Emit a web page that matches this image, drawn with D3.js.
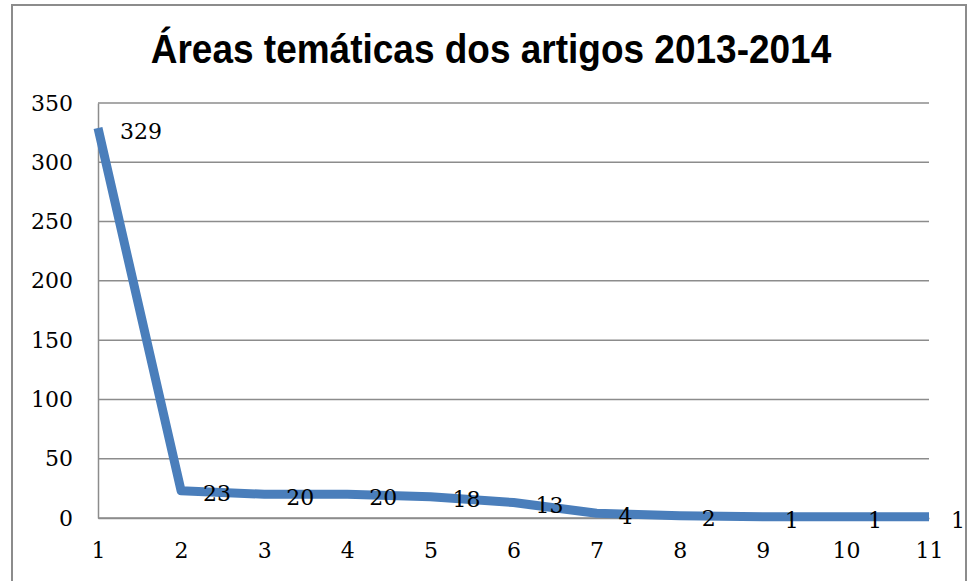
<!DOCTYPE html>
<html>
<head>
<meta charset="UTF-8">
<title>Áreas temáticas</title>
<script src="https://cdn.jsdelivr.net/npm/d3@7"></script>
<style>
  body { margin: 0; background: #fff; }
  .tick text { font-family: "DejaVu Serif", serif; font-size: 22px; fill: #000; }
  .lbl { font-family: "DejaVu Serif", serif; font-size: 22px; fill: #000; }
</style>
</head>
<body>
<svg width="971" height="581"></svg>
<script>
// dados
var categorias = [1, 2, 3, 4, 5, 6, 7, 8, 9, 10, 11];
var valores = [329, 23, 20, 20, 18, 13, 4, 2, 1, 1, 1];
var yTicks = [0, 50, 100, 150, 200, 250, 300, 350];
var titulo = "Áreas temáticas dos artigos 2013-2014";

var svg = d3.select("svg");

// moldura
svg.append("rect")
  .attr("x", 12).attr("y", 5)
  .attr("width", 954).attr("height", 590)
  .attr("fill", "none")
  .attr("stroke", "#8c8c8c")
  .attr("stroke-width", 2);

var x = d3.scaleLinear().domain([1, 11]).range([98, 929]);
var y = d3.scaleLinear().domain([0, 350]).range([518, 103]);

// grade
svg.append("g")
  .selectAll("line")
  .data(yTicks)
  .enter()
  .append("line")
  .attr("x1", x(1)).attr("x2", x(11))
  .attr("y1", function(d) { return y(d); })
  .attr("y2", function(d) { return y(d); })
  .attr("stroke", "#8c8c8c")
  .attr("stroke-width", 1.5);

// eixo y
var yAxis = svg.append("g")
  .attr("transform", "translate(" + x(1) + ",0)")
  .call(d3.axisLeft(y).tickValues(yTicks).tickSize(0).tickPadding(25));
yAxis.select(".domain").attr("stroke", "#8c8c8c").attr("stroke-width", 1.5);

// eixo x
var xAxis = svg.append("g")
  .attr("transform", "translate(0," + y(0) + ")")
  .call(d3.axisBottom(x).tickValues(categorias).tickFormat(d3.format("d")).tickSize(0).tickPadding(24));
xAxis.select(".domain").attr("stroke", "#8c8c8c").attr("stroke-width", 1.5);

// linha
var linha = d3.line()
  .x(function(d, i) { return x(categorias[i]); })
  .y(function(d) { return y(d); });

svg.append("path")
  .datum(valores)
  .attr("d", linha)
  .attr("fill", "none")
  .attr("stroke", "#4a7ebb")
  .attr("stroke-width", 9)
  .attr("stroke-linejoin", "round");

// rótulos
svg.append("g")
  .selectAll("text")
  .data(valores)
  .enter()
  .append("text")
  .attr("class", "lbl")
  .attr("x", function(d, i) { return x(categorias[i]) + 22; })
  .attr("y", function(d) { return y(d) + 3; })
  .attr("dy", "0.35em")
  .text(function(d) { return d; });

// título
svg.append("text")
  .attr("transform", "translate(491,63) scale(1,1.12)")
  .attr("text-anchor", "middle")
  .style("font-family", "'Liberation Sans', Arial, sans-serif")
  .style("font-weight", "bold")
  .style("font-size", "37px")
  .text(titulo);
</script>
</body>
</html>
